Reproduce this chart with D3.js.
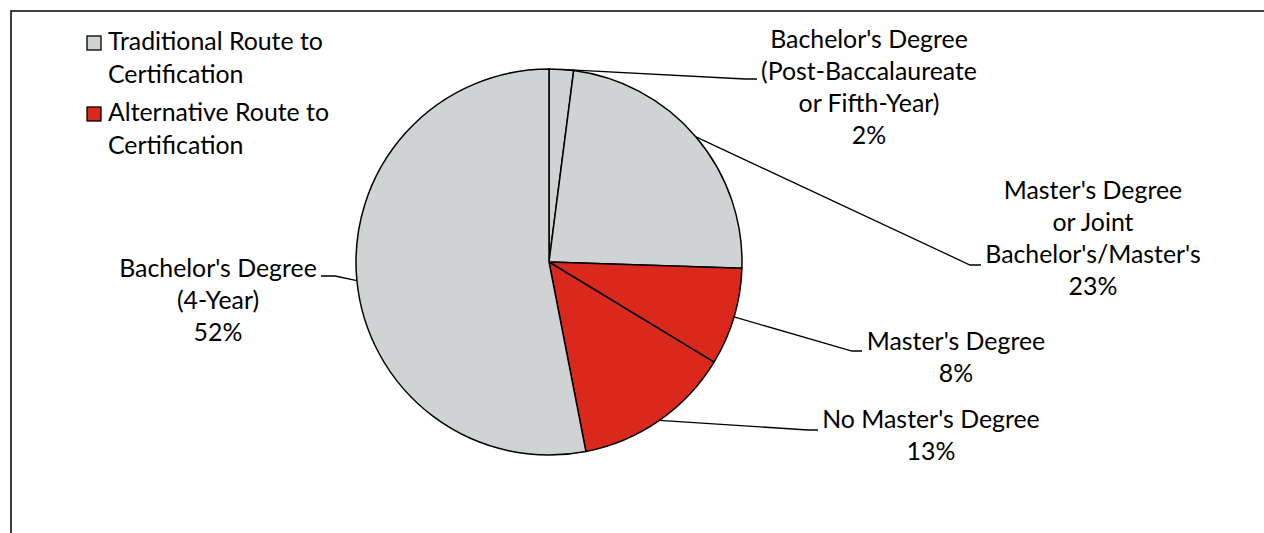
<!DOCTYPE html>
<html>
<head>
<meta charset="utf-8">
<script src="https://cdn.jsdelivr.net/npm/d3@7"></script>
<style>
  html, body { margin: 0; padding: 0; background: #fff; overflow: hidden; }
  svg { display: block; }
</style>
</head>
<body>
<svg id="chart" width="1264" height="533"></svg>
<script>
// ---- data ----
const categories = [
  "Bachelor's Degree (Post-Baccalaureate or Fifth-Year)",
  "Master's Degree or Joint Bachelor's/Master's",
  "Master's Degree",
  "No Master's Degree",
  "Bachelor's Degree (4-Year)"
];
const labelLines = [
  ["Bachelor's Degree", "(Post-Baccalaureate", "or Fifth-Year)"],
  ["Master's Degree", "or Joint", "Bachelor's/Master's"],
  ["Master's Degree"],
  ["No Master's Degree"],
  ["Bachelor's Degree", "(4-Year)"]
];
const values = [2, 23, 8, 13, 52];
const routes = ["Traditional", "Traditional", "Alternative", "Alternative", "Traditional"];
const legendKeys = ["Traditional", "Alternative"];
const legendLines = [["Traditional Route to", "Certification"], ["Alternative Route to", "Certification"]];

// ---- layout (not data) ----
const W = 1264, H = 533;
const cx = 549, cy = 262, R = 193;
const lineH = 32;
// label placement: text center x, first baseline, elbow point, leader end
const labelLayout = [
  { x: 869,  y0: 48,  elbow: [745, 79],  end: [757, 79] },
  { x: 1093, y0: 199, elbow: [970, 265], end: [981, 265] },
  { x: 956,  y0: 350, elbow: [852, 351], end: [862, 351] },
  { x: 931,  y0: 428, elbow: [808, 430], end: [818, 430] },
  { x: 218,  y0: 277, elbow: [335, 276], end: [321, 276] }
];

const color = d3.scaleOrdinal().domain(legendKeys).range(["#D0D3D4", "#DA291C"]);
const FONT = "Lato, Carlito, Calibri, 'Open Sans', sans-serif";

const svg = d3.select("#chart");

// font-size calibration: "Traditional Route to" ~ 215px wide
const probe = svg.append("text").attr("font-family", FONT).attr("font-size", 100).text("Traditional Route to");
const pw = probe.node().getComputedTextLength();
probe.remove();
const fs = Math.max(18, Math.min(30, 100 * 215 / pw));

// frame (right/bottom edges fall outside the window)
svg.append("rect")
  .attr("x", 11).attr("y", 11).attr("width", W + 20).attr("height", H + 20)
  .attr("fill", "none").attr("stroke", "#000").attr("stroke-width", 1.5);

// pie
const pie = d3.pie().sort(null).value(d => d);
const arcs = pie(values);
const arc = d3.arc().innerRadius(0).outerRadius(R);

const g = svg.append("g").attr("transform", `translate(${cx},${cy})`);
g.selectAll("path.slice")
  .data(arcs)
  .join("path")
  .attr("class", "slice")
  .attr("d", arc)
  .attr("fill", (d, i) => color(routes[i]))
  .attr("stroke", "#000")
  .attr("stroke-width", 1.5)
  .attr("stroke-linejoin", "round");

// leader lines
arcs.forEach((d, i) => {
  const a = (d.startAngle + d.endAngle) / 2;
  const px = cx + R * Math.sin(a), py = cy - R * Math.cos(a);
  const L = labelLayout[i];
  svg.append("polyline")
    .attr("points", [[px, py], L.elbow, L.end].map(p => p.join(",")).join(" "))
    .attr("fill", "none")
    .attr("stroke", "#000")
    .attr("stroke-width", 1.3);
});

// labels
arcs.forEach((d, i) => {
  const L = labelLayout[i];
  const lines = labelLines[i].concat([`${values[i]}%`]);
  const t = svg.append("text")
    .attr("font-family", FONT)
    .attr("font-size", fs)
    .attr("fill", "#000")
    .attr("text-anchor", "middle");
  lines.forEach((s, j) => {
    t.append("tspan").attr("x", L.x).attr("y", L.y0 + j * lineH).text(s);
  });
});

// legend
const legendY = [50, 121];
legendKeys.forEach((k, i) => {
  svg.append("rect")
    .attr("x", 87).attr("y", legendY[i] - 14)
    .attr("width", 14).attr("height", 14)
    .attr("fill", color(k))
    .attr("stroke", "#000").attr("stroke-width", 1.3);
  const t = svg.append("text")
    .attr("font-family", FONT)
    .attr("font-size", fs)
    .attr("fill", "#000");
  legendLines[i].forEach((s, j) => {
    t.append("tspan").attr("x", 108).attr("y", legendY[i] + j * 33).text(s);
  });
});
</script>
</body>
</html>
